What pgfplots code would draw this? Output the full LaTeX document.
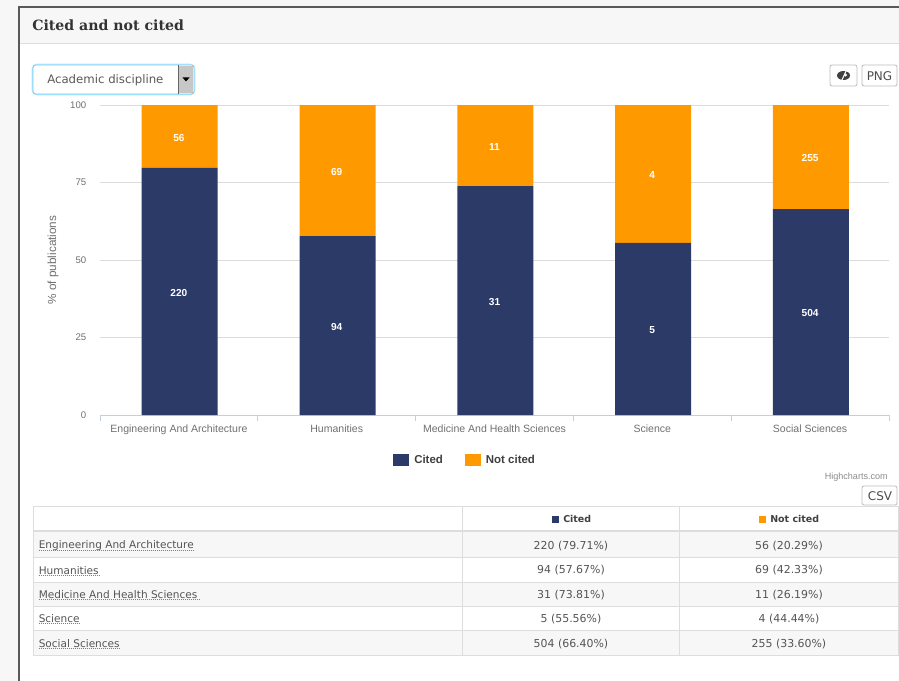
\documentclass[border=0pt]{standalone}
\usepackage{fontspec}
\setmainfont{Liberation Sans}
\newfontfamily\serifhead{DejaVu Serif}
\newfontfamily\verd{DejaVu Sans}
\usepackage{pgfplots}
\usepackage{pgfplotstable}
\pgfplotsset{compat=1.18}
\definecolor{navy}{HTML}{2C3A68}
\definecolor{amber}{HTML}{FF9900}
\definecolor{axisblue}{HTML}{C0D0E0}
\definecolor{gridgrey}{HTML}{DCDCDC}
\definecolor{rowgrey}{HTML}{F7F7F7}
\definecolor{rulegrey}{HTML}{DDDDDD}
\definecolor{ticktext}{HTML}{707070}
\definecolor{tabtext}{HTML}{555555}

\pgfplotstableread{
x cited notcited
0 79.71 20.29
1 57.67 42.33
2 73.81 26.19
3 55.56 44.44
4 66.40 33.60
}\shares

% label height is the middle of each bar segment
\pgfplotstableread{
x y label
0 39.86 220
1 28.84 94
2 36.90 31
3 27.78 5
4 33.20 504
0 89.86 56
1 78.84 69
2 86.90 11
3 77.78 4
4 83.20 255
}\labels

\begin{document}
\begin{tikzpicture}
\path[use as bounding box] (0,0) rectangle (674.25pt,-510.75pt);

\begin{scope}[x=0.75pt,y=-0.75pt]
	% page and panel
	\fill[white] (0,0) rectangle (899,681);
	\fill[rowgrey] (0,0) rectangle (899,6);
	\fill[rowgrey] (0,0) rectangle (18,681);
	\fill[white] (20,8) rectangle (899,681);
	\fill[rowgrey] (20,8) rectangle (899,44);
	\draw[rulegrey,line width=0.75pt] (20,44) -- (899,44);
	\draw[black!65,line width=1.5pt] (19,681) -- (19,7) -- (899,7);
	\node[anchor=west,inner sep=0pt,text=black!80,font=\serifhead\bfseries\fontsize{10.6pt}{13pt}\selectfont] at (32,25.5) {Cited and not cited};

	% dropdown
	\draw[blue!40!cyan!25,line width=2pt,rounded corners=3pt] (33,65) rectangle (194,94);
	\draw[fill=white,draw=black!15!blue!30!cyan!60,line width=0.6pt,rounded corners=2pt] (33,65) rectangle (194,94);
	\fill[black!22] (178,66) rectangle (193,93);
	\draw[black!60,line width=0.6pt] (178,65) -- (178,94);
	\fill[black] (182.5,77.5) -- (189.5,77.5) -- (186,81.5) -- cycle;
	\node[anchor=west,inner sep=0pt,text=black!65,font=\verd\fontsize{8.8pt}{11pt}\selectfont] at (47,80.5) {Academic discipline};

	% export buttons
	\draw[rulegrey!85!black,fill=white,rounded corners=1.5pt,line width=0.6pt] (830,65) rectangle (857,86);
	\fill[black!75] (843.5,75.5) ellipse (6.5 and 4.5);
	\fill[white] (845.5,75) circle (1.6);
	\draw[white,line width=0.75pt] (847,69) -- (841,82);
	\draw[rulegrey!85!black,fill=white,rounded corners=1.5pt,line width=0.6pt] (862,65) rectangle (897,86);
	\node[text=black!70,inner sep=0pt,font=\verd\fontsize{9pt}{11pt}\selectfont] at (879.5,76) {PNG};
	\draw[rulegrey!85!black,fill=white,rounded corners=1.5pt,line width=0.6pt] (862,486) rectangle (897,505);
	\node[text=black!70,inner sep=0pt,font=\verd\fontsize{9pt}{11pt}\selectfont] at (880,496) {CSV};
	\node[anchor=east,inner sep=0pt,text=black!45,font=\fontsize{6.8pt}{8pt}\selectfont] at (888,477) {Highcharts.com};
\end{scope}

\begin{axis}[
	at={(75pt,-311.25pt)},
	anchor=south west,
	scale only axis,
	width=591.75pt,
	height=232.5pt,
	ybar stacked,
	bar width=57pt,
	bar shift=0.6pt,
	xmin=-0.5,xmax=4.5,
	ymin=0,ymax=100,
	axis x line=bottom,
	axis y line=left,
	x axis line style={-,draw=axisblue,line width=0.75pt},
	y axis line style={draw=none},
	xtick={0,...,4},
	xticklabels={Engineering And Architecture,Humanities,Medicine And Health Sciences,Science,Social Sciences},
	minor xtick={-0.5,0.5,...,4.5},
	major x tick style={draw=none},
	minor x tick style={draw=axisblue,line width=0.75pt},
	minor tick length=4.5pt,
	tick align=outside,
	ytick={0,25,50,75,100},
	major y tick style={draw=none},
	ymajorgrids,
	grid style={gridgrey,line width=0.75pt},
	axis on top=false,
	xticklabel style={text=ticktext,font=\fontsize{7.9pt}{9pt}\selectfont,yshift=0.3pt},
	yticklabel style={text=ticktext,font=\fontsize{7.2pt}{9pt}\selectfont,xshift=-2.5pt},
	/pgf/number format/assume math mode=true,
	ylabel={\% of publications},
	every axis y label/.style={at={(rel axis cs:-0.0595,0.5)},rotate=90,anchor=center,
		text=ticktext,font=\fontsize{8.8pt}{10pt}\selectfont},
	legend columns=2,
	legend style={draw=none,fill=none,at={(0.463,-0.145)},anchor=center,
		font=\bfseries\fontsize{8.6pt}{10pt}\selectfont,text=black!75,
		/tikz/every odd column/.append style={column sep=2pt},
		/tikz/every even column/.append style={column sep=14.25pt}},
	legend image code/.code={\fill[#1] (0pt,-4.5pt) rectangle (12pt,4.5pt);},
]
\addplot[fill=navy,draw=none] table[x=x,y=cited] {\shares};
\addplot[fill=amber,draw=none] table[x=x,y=notcited] {\shares};
\legend{Cited,Not cited}
\end{axis}

% same frame again, holds only the count labels
\begin{axis}[
	at={(75pt,-311.25pt)},
	anchor=south west,
	scale only axis,
	width=591.75pt,
	height=232.5pt,
	xmin=-0.5,xmax=4.5,
	ymin=0,ymax=100,
	hide axis,
]
\addplot[only marks,mark=none,draw=none,point meta=explicit symbolic,
	nodes near coords,nodes near coords align=center,
	every node near coord/.append style={text=white,inner sep=0pt,yshift=-0.9pt,font=\bfseries\fontsize{7.6pt}{9pt}\selectfont}]
	table[x=x,y=y,meta=label] {\labels};
\end{axis}

\begin{scope}[x=0.75pt,y=-0.75pt]
	% stat table
	\fill[rowgrey] (33,531) rectangle (898,557);
	\fill[rowgrey] (33,582) rectangle (898,606);
	\fill[rowgrey] (33,630) rectangle (898,655.5);
	\draw[rulegrey,line width=0.75pt] (33,506.5) rectangle (898,655.5);
	\draw[rulegrey,line width=1.5pt] (33,531) -- (898,531);
	\foreach \yy in {557,582,606,630} \draw[rulegrey,line width=0.75pt] (33,\yy) -- (898,\yy);
	\foreach \xx in {462,679.5} \draw[rulegrey,line width=0.75pt] (\xx,506.5) -- (\xx,655.5);

	\fill[navy] (552,515.5) rectangle (559,523);
	\node[anchor=west,inner sep=0pt,text=black!75,font=\verd\bfseries\fontsize{7.1pt}{8pt}\selectfont] at (563,519) {Cited};
	\fill[amber] (759,515.5) rectangle (766,523);
	\node[anchor=west,inner sep=0pt,text=black!75,font=\verd\bfseries\fontsize{7.1pt}{8pt}\selectfont] at (770,519) {Not cited};

	\foreach \yy/\name/\rowend in {546/Engineering And Architecture/193,570.5/Humanities/100,595/Medicine And Health Sciences/199,619/Science/79,644/Social Sciences/120}{
		\node[anchor=west,inner sep=0pt,text=tabtext,font=\verd\fontsize{7.9pt}{9pt}\selectfont] at (38.5,\yy) {\name};
		\draw[black!50,line width=0.5pt,dash pattern=on 0.75pt off 0.75pt] (38.5,\yy+4.5) -- (\rowend,\yy+4.5);
	}
	\foreach \yy/\aa/\bb in {546/220 (79.71\%)/56 (20.29\%),570/94 (57.67\%)/69 (42.33\%),595/31 (73.81\%)/11 (26.19\%),619/5 (55.56\%)/4 (44.44\%),644/504 (66.40\%)/255 (33.60\%)}{
		\node[inner sep=0pt,text=tabtext,font=\verd\fontsize{8.2pt}{9pt}\selectfont] at (571,\yy) {\aa};
		\node[inner sep=0pt,text=tabtext,font=\verd\fontsize{8.2pt}{9pt}\selectfont] at (789,\yy) {\bb};
	}
\end{scope}
\end{tikzpicture}
\end{document}
